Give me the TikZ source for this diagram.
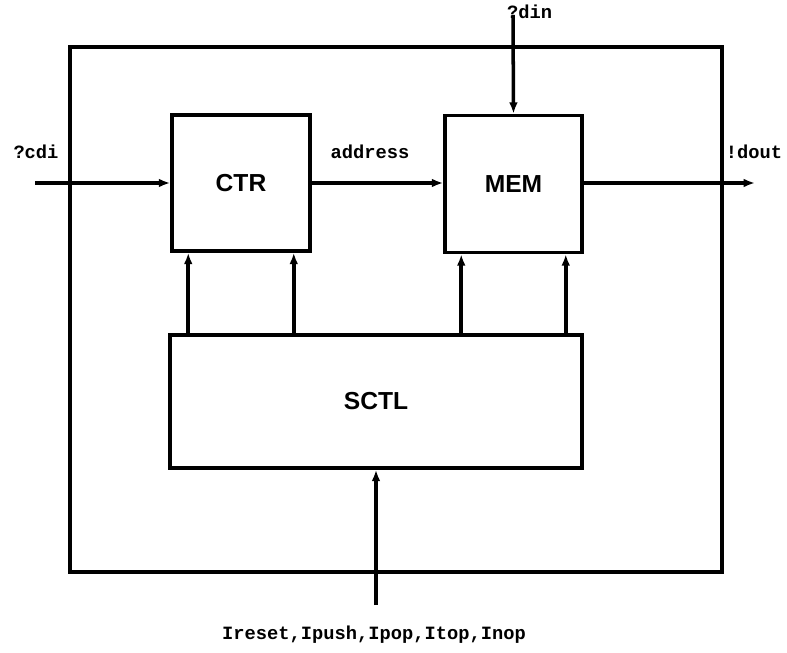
\documentclass[tikz,border=0pt]{standalone}
\usepackage{fontspec}
\setsansfont{Liberation Sans}
\setmonofont{Liberation Mono}
\usetikzlibrary{positioning,arrows.meta}

\begin{document}
\begin{tikzpicture}[
  x=0.03cm, y=-0.03cm,
  >={Latex[length=3.4mm,width=2.6mm]},
  block/.style={draw, line width=3pt, font=\sffamily\bfseries\fontsize{21}{25}\selectfont, inner sep=0pt},
  frame/.style={draw, line width=2.8pt, inner sep=0pt},
  sig/.style={->, line width=3pt},
  lab/.style={font=\ttfamily\bfseries\fontsize{16}{18}\selectfont, inner sep=0pt},
]
\useasboundingbox (0,0) rectangle (787,653);

% ---- enclosing frame ----
\node[frame, minimum width=19.56cm, minimum height=15.75cm] (SYS) at (396,309.5) {};

% ---- blocks ----
\node[block, minimum width=4.14cm, minimum height=4.08cm] (CTR) at (241,183) {CTR};
\node[block, minimum width=4.11cm, minimum height=4.11cm] (MEM) at (513.5,184) {MEM};
\node[block, minimum width=12.36cm, minimum height=3.99cm] (SCTL) at (376,401.5) {SCTL};

% ---- free ends ----
\coordinate (cdiIn) at (35,183);
\coordinate (dinIn) at (513,15);
\coordinate (doutOut) at (755,183);
\coordinate (ctlIn) at (376,605);

% ---- data path ----
\draw[sig] (cdiIn) -- (CTR.west |- cdiIn);
\draw[sig] (CTR.east) -- (MEM.west |- CTR.east);
\draw[sig] (dinIn) -- (MEM.north);
\draw[sig] (MEM.east |- doutOut) -- (doutOut);
\draw[sig] (ctlIn) -- (SCTL.south);

% ---- control lines up from SCTL ----
\foreach \b in {CTR,MEM}
  \foreach \s/\a in {0.54/south west,-0.54/south east}
    \draw[sig] ([xshift=\s cm]\b.\a |- SCTL.north) -- ([xshift=\s cm]\b.\a);

% ---- labels ----
\node[lab] (cdiLab) at (36,152) {?cdi};
\node[lab] (addrLab) at (370,152) {address};
\node[lab, anchor=west] (dinLab) at (507,12) {?din};
\node[lab] (doutLab) at (754,152) {!dout};
\node[lab] (ctlLab) at (374,635) {Ireset,Ipush,Ipop,Itop,Inop};

\end{tikzpicture}
\end{document}
